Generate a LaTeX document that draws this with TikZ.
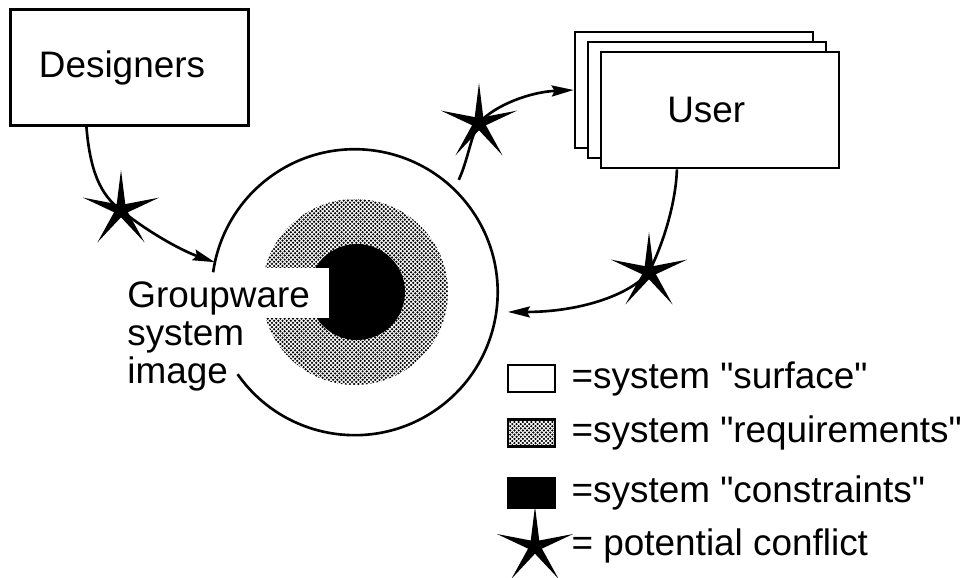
\documentclass[tikz,border=0pt]{standalone}
\usepackage{fontspec}
\newfontfamily\diagfont{Liberation Sans}
\usetikzlibrary{arrows.meta, positioning, shapes.geometric, patterns}

% fine halftone dots for the requirements ring
\pgfdeclarepatternformonly{finedots}{\pgfqpoint{-1pt}{-1pt}}{\pgfqpoint{3pt}{3pt}}{\pgfqpoint{2.4pt}{2.4pt}}{%
  \pgfpathcircle{\pgfqpoint{0pt}{0pt}}{0.7pt}%
  \pgfpathcircle{\pgfqpoint{1.2pt}{1.2pt}}{0.7pt}%
  \pgfusepath{fill}}

\newcommand{\bigfont}{\diagfont\fontsize{21}{21.6}\selectfont}

\begin{document}
\begin{tikzpicture}[
x=0.02cm, y=-0.02cm,
box/.style={rectangle, draw, line width=1.5pt, fill=white, minimum width=4.76cm, minimum height=2.32cm, font=\bigfont},
conflict/.style={star, star points=5, star point ratio=5.5, fill=black, inner sep=0pt, minimum size=1.6cm},
arrow/.style={-{Stealth[length=0.44cm, width=0.22cm, inset=0.06cm]}, line width=1.5pt},
swatch/.style={rectangle, draw, line width=1.5pt, minimum width=0.94cm, minimum height=0.54cm, inner sep=0pt},
legtext/.style={font=\bigfont, inner sep=0pt}
]
\useasboundingbox (0,0) rectangle (975,578);

% system image rings
\node[circle, minimum size=5.72cm, inner sep=0pt] (surface) at (355,292) {};
\node[circle, minimum size=3.72cm, inner sep=0pt, pattern=finedots] (req) at (355,292) {};
\node[circle, minimum size=1.92cm, inner sep=0pt, fill=black] (core) at (357,292) {};
\draw[line width=1.5pt] (surface.215) arc[start angle=215, end angle=532, radius=2.86cm];

\fill[white] (240,268) rectangle (329,318);
\node[font=\bigfont, align=left, anchor=north west, inner sep=0pt] (image) at (127,281) {Groupware\\system\\image};

% actors
\node[box] (designers) at (129.5,67.5) {Designers\hspace*{0.3cm}};
\node[box] (back) at (694,90) {};
\node[box] (middle) at (707,100) {};
\node[box] (user) at (720,110) {User\hspace*{0.55cm}};

% conflicts
\node[conflict] (c1) at (121,210) {};
\node[conflict] (c2) at (479,123) {};
\node[conflict] (c3) at (649,272) {};

\draw[arrow] (designers.234) .. controls (90,170) and (100,195) .. (c1.center) .. controls (145,230) and (180,250) .. (surface.168);
\draw[arrow, shorten <=0.2cm] (surface.46) .. controls (468,160) and (471,135) .. (c2.center) .. controls (495,105) and (530,92) .. (back.west);
\draw[arrow, shorten >=0.22cm] (user.234) .. controls (676,200) and (665,240) .. (c3.center) .. controls (630,295) and (580,312) .. (surface.-8);

% legend
\node[swatch] (lsurf) at (531.5,378.5) {};
\node[swatch, pattern=finedots, below=0.5cm of lsurf] (lreq) {};
\node[swatch, fill=black, minimum height=0.58cm, below=0.58cm of lreq] (lcons) {};
\node[conflict, below=-0.1cm of lcons, xshift=0.07cm] (lconf) {};

\node[legtext, right=0.3cm of lsurf] (tsurf) {=system "surface"};
\node[legtext, right=0.3cm of lreq] (treq) {=system "requirements"};
\node[legtext, right=0.3cm of lcons] (tcons) {=system "constraints"};
\node[legtext, anchor=west] (tconf) at (tcons.west |- lconf) {= potential conflict};
\end{tikzpicture}
\end{document}
